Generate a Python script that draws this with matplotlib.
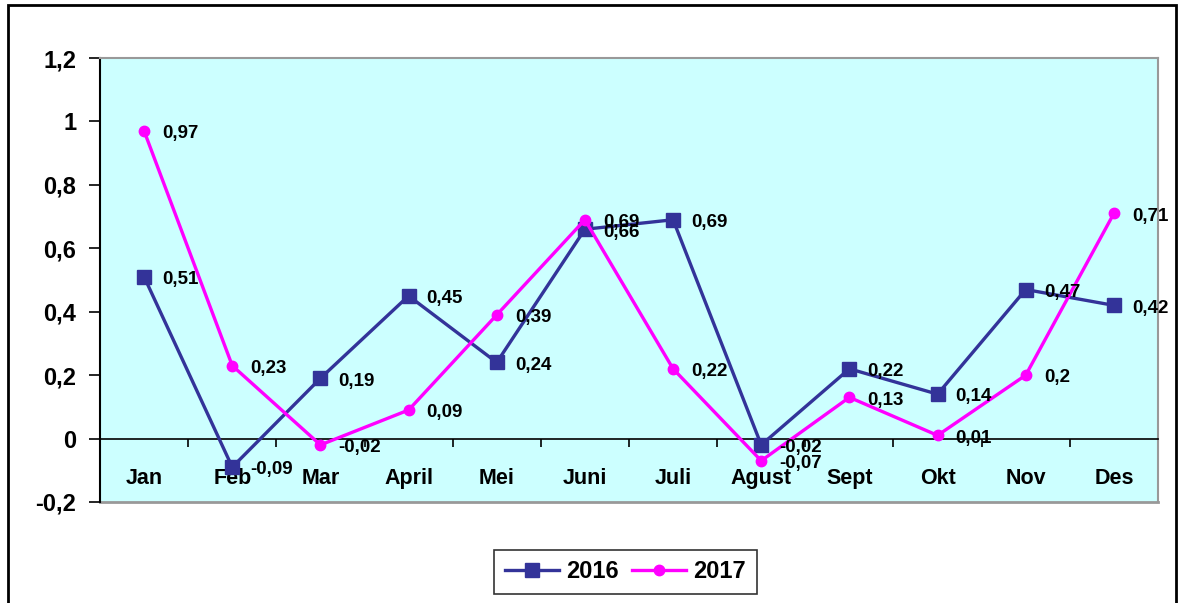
import matplotlib

matplotlib.use('Agg')
import matplotlib.pyplot as plt
from matplotlib.patches import Rectangle
from matplotlib.ticker import FixedLocator, FuncFormatter

plt.rcParams['font.family'] = ['Liberation Sans', 'DejaVu Sans']
plt.rcParams['font.weight'] = 'bold'

months = ["Jan", "Feb", "Mar", "April", "Mei", "Juni", "Juli", "Agust", "Sept", "Okt", "Nov", "Des"]
values_2016 = [0.51, -0.09, 0.19, 0.45, 0.24, 0.66, 0.69, -0.02, 0.22, 0.14, 0.47, 0.42]
values_2017 = [0.97, 0.23, -0.02, 0.09, 0.39, 0.69, 0.22, -0.07, 0.13, 0.01, 0.2, 0.71]
y_ticks = [-0.2, 0, 0.2, 0.4, 0.6, 0.8, 1, 1.2]

COLOR_2016 = '#333399'
COLOR_2017 = '#FF00FF'


def comma(v):
    return ('%g' % round(v, 2)).replace('.', ',')


fig = plt.figure(figsize=(11.78, 6.03), dpi=100)
ax = fig.add_axes([0.0849, 0.1675, 0.8981, 0.7363])
ax.set_facecolor('#CCFFFF')

x = list(range(len(months)))
ax.plot(x, values_2016, color=COLOR_2016, lw=2.4, marker='s', markersize=10, label='2016', zorder=3)
ax.plot(x, values_2017, color=COLOR_2017, lw=2.4, marker='o', markersize=7.5, label='2017', zorder=3)

for xi, v in zip(x, values_2016):
    ax.annotate(comma(v), (xi, v), xytext=(13, -2), textcoords='offset points',
                ha='left', va='center', fontsize=13.5, fontweight='bold', zorder=4)
for xi, v in zip(x, values_2017):
    ax.annotate(comma(v), (xi, v), xytext=(13, -2), textcoords='offset points',
                ha='left', va='center', fontsize=13.5, fontweight='bold', zorder=4)

ax.set_xlim(-0.5, 11.5)
ax.set_ylim(-0.2, 1.2)

# axis styling
ax.spines['bottom'].set_position(('data', 0))
ax.spines['bottom'].set_color('black')
ax.spines['bottom'].set_linewidth(1.2)
ax.spines['left'].set_color('black')
ax.spines['left'].set_linewidth(1.5)
ax.spines['top'].set_color('#999999')
ax.spines['right'].set_color('#999999')
ax.spines['top'].set_linewidth(1.5)
ax.spines['right'].set_linewidth(1.5)
ax.plot([0, 1], [0, 0], transform=ax.transAxes, color='#999999', lw=2, clip_on=False)

ax.xaxis.set_major_locator(FixedLocator(x))
ax.set_xticklabels(months, fontsize=15.5, fontweight='bold')
ax.tick_params(axis='x', which='major', length=0, pad=21)
ax.xaxis.set_minor_locator(FixedLocator([i + 0.5 for i in x]))
ax.tick_params(axis='x', which='minor', length=6, width=1.2, direction='out')

ax.yaxis.set_major_locator(FixedLocator(y_ticks))
ax.yaxis.set_major_formatter(FuncFormatter(lambda v, p: comma(v)))
ax.tick_params(axis='y', length=8, width=1.2, direction='out', labelsize=17, pad=9)
for lbl in ax.get_yticklabels():
    lbl.set_fontweight('bold')

leg = fig.legend(loc='center', bbox_to_anchor=(625.5 / 1178, 1 - 572 / 603), ncol=2,
                 prop={'size': 17, 'weight': 'bold'}, frameon=True, fancybox=False,
                 edgecolor='black', handlelength=2.3, columnspacing=0.55, handletextpad=0.3,
                 borderpad=0.45, borderaxespad=0)
leg.get_frame().set_linewidth(1.2)

# outer chart border
fig.patches.append(Rectangle((8 / 1178, -0.01), 1168 / 1178, 1 - 5 / 603 + 0.01,
                             transform=fig.transFigure, fill=False, edgecolor='black', lw=2))

fig.savefig('out.png', dpi=100)
